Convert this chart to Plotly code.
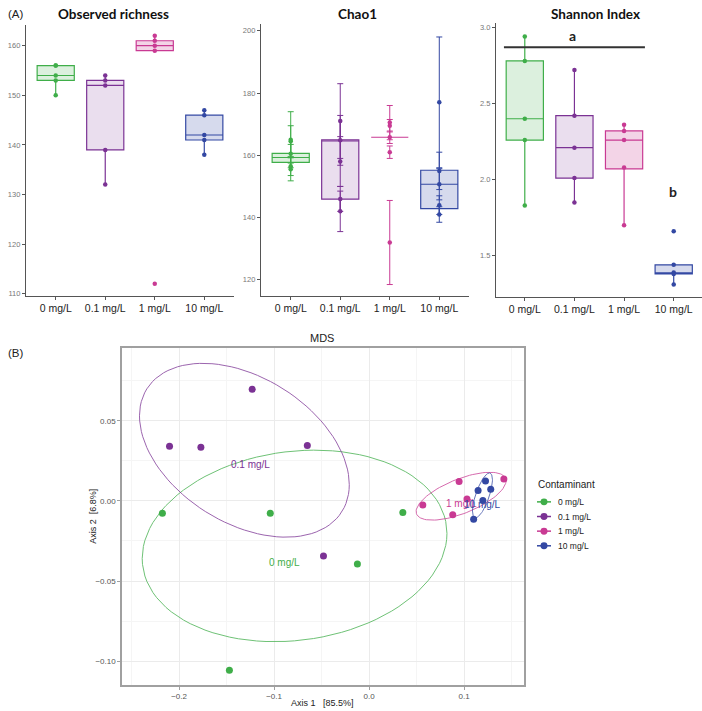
import numpy as np
import plotly.graph_objects as go

W, H = 702, 711

# ---------------- data ----------------
groups = ["0 mg/L", "0.1 mg/L", "1 mg/L", "10 mg/L"]
legend_labels = ["0 mg/L", "0.1 mg/L", "1 mg/L", "10 mg/L"]
colors = ["#3fae49", "#7b3294", "#c93a93", "#3348a3"]
fills = ["rgba(63,174,73,0.18)", "rgba(123,50,148,0.16)", "rgba(201,58,147,0.22)", "rgba(51,72,163,0.2)"]

# Observed richness
obs_points = [[156, 156, 154, 153, 150], [154, 153, 152, 139, 132],
              [162, 161, 160, 159, 112], [147, 146, 142, 141, 138]]
obs_q1 = [153, 139, 159, 141]
obs_med = [154, 152, 160, 142]
obs_q3 = [156, 153, 161, 146]
obs_lo = [150, 132, 159, 138]
obs_hi = [156, 154, 162, 147]

# Chao1
chao_points = [[165, 164.5, 160.5, 156.5, 155.5], [171, 164.8, 158, 146, 142],
               [170.5, 169.5, 165.8, 161, 132], [177, 155, 150.7, 144, 141]]
chao_se = [[9, 5, 3, 3, 3.7], [12, 8, 8, 4, 6.5],
           [5.5, 2, 2, 2, 13.5], [21, 6, 5, 3, 2.5]]
chao_q1 = [157.7, 145.9, 165.8, 142.9]
chao_med = [159.3, 164.6, 165.8, 150.7]
chao_q3 = [160.6, 165.0, 165.8, 155.2]
chao_lo = [155.5, 142, 165.8, 141]
chao_hi = [165, 171, 165.8, 155]

# Shannon
sha_points = [[2.94, 2.78, 2.40, 2.26, 1.83], [2.72, 2.42, 2.21, 2.01, 1.85],
              [2.36, 2.32, 2.26, 2.08, 1.70], [1.66, 1.44, 1.39, 1.38, 1.31]]
sha_q1 = [2.26, 2.01, 2.07, 1.38]
sha_med = [2.40, 2.21, 2.26, 1.385]
sha_q3 = [2.78, 2.42, 2.32, 1.44]
sha_lo = [1.83, 1.85, 1.70, 1.31]
sha_hi = [2.94, 2.72, 2.36, 1.44]
sig_letters = ["a", "b"]
sig_letter_x = [1.97, 3.98]
sig_letter_y = [2.945, 1.92]
sig_bar_x = [0.58, 3.42]
sig_bar_y = 2.87

# MDS coordinates
mds_x = [[-0.2175, -0.104, -0.0123, -0.147, 0.0355],
         [-0.123, -0.210, -0.177, -0.065, -0.048],
         [0.0565, 0.0947, 0.103, 0.088, 0.1418],
         [0.1225, 0.1147, 0.128, 0.1197, 0.110]]
mds_y = [[-0.0077, -0.0077, -0.0394, -0.1057, -0.0072],
         [0.0697, 0.0342, 0.0336, 0.0346, -0.0344],
         [-0.0025, 0.0121, 0.0012, -0.0087, 0.0137],
         [0.0124, 0.0065, 0.0073, 0.0002, -0.0114]]
ELLIPSE_LEVEL = 0.70


def dxp(px):
    return px / W


def dyp(py):
    return 1 - py / H


fig = go.Figure()

panels = [
    ("x", "y", obs_points, None, obs_q1, obs_med, obs_q3, obs_lo, obs_hi),
    ("x2", "y2", chao_points, chao_se, chao_q1, chao_med, chao_q3, chao_lo, chao_hi),
    ("x3", "y3", sha_points, None, sha_q1, sha_med, sha_q3, sha_lo, sha_hi),
]
for xa, ya, pts, se, q1, med, q3, lo, hi in panels:
    for i in range(4):
        fig.add_trace(go.Box(
            x=[i + 1], q1=[q1[i]], median=[med[i]], q3=[q3[i]],
            lowerfence=[lo[i]], upperfence=[hi[i]], width=0.75,
            line=dict(color=colors[i], width=1.2), fillcolor=fills[i],
            whiskerwidth=0, boxpoints=False, showlegend=False,
            xaxis=xa, yaxis=ya))
        sc = dict(x=[i + 1] * len(pts[i]), y=pts[i], mode="markers",
                  marker=dict(color=colors[i], size=4.5), showlegend=False,
                  xaxis=xa, yaxis=ya)
        if se is not None:
            sc["error_y"] = dict(type="data", array=se[i], visible=True,
                                 color=colors[i], thickness=1, width=3)
        fig.add_trace(go.Scatter(**sc))


# ---------- MDS ellipses (stat_ellipse type "t") ----------
def cov_trob(X, nu=5, maxit=25, tol=0.01):
    n, p = X.shape
    wt = np.ones(n)
    loc = X.mean(axis=0)
    w = np.sqrt(wt)
    Xc = X - loc
    for _ in range(maxit):
        w0 = w
        Xc = X - loc
        A = np.sqrt(w / w.sum())[:, None] * Xc
        _, d, Vt = np.linalg.svd(A, full_matrices=False)
        wX = Xc @ Vt.T @ np.diag(1 / d)
        Q = (wX ** 2).sum(axis=1)
        w = wt * (nu + p) / (nu + Q)
        loc = (w[:, None] * X).sum(axis=0) / w.sum()
        if np.all(np.abs(w - w0) < tol):
            break
    S = np.sqrt(w)[:, None] * Xc
    return loc, S.T @ S / wt.sum()


for i in range(4):
    X = np.column_stack([mds_x[i], mds_y[i]])
    center, shape = cov_trob(X)
    dfd = len(X) - 1
    f = (dfd / 2) * ((1 - ELLIPSE_LEVEL) ** (-2 / dfd) - 1)
    radius = np.sqrt(2 * f)
    L = np.linalg.cholesky(shape)
    ang = np.linspace(0, 2 * np.pi, 101)
    circ = np.column_stack([np.cos(ang), np.sin(ang)])
    ell = center + radius * (circ @ L.T)
    fig.add_trace(go.Scatter(x=ell[:, 0], y=ell[:, 1], mode="lines",
                             line=dict(color=colors[i], width=1), opacity=0.75,
                             showlegend=False, xaxis="x4", yaxis="y4"))

for i in range(4):
    fig.add_trace(go.Scatter(x=mds_x[i], y=mds_y[i], mode="markers",
                             marker=dict(color=colors[i], size=7),
                             showlegend=False, xaxis="x4", yaxis="y4"))
    fig.add_annotation(x=float(np.mean(mds_x[i])), y=float(np.mean(mds_y[i])),
                       xref="x4", yref="y4", text=groups[i], showarrow=False,
                       xanchor="center", yanchor="middle",
                       yshift=-8, font=dict(size=10, color=colors[i],
                                            family="Liberation Sans"))

# ---------- layout ----------
tickfont_y = dict(size=7.5, color="#777", family="Liberation Sans")
tickfont_x = dict(size=10.5, color="#222", family="Liberation Sans")
axA = dict(showline=True, linecolor="#555", linewidth=1.3, ticks="outside",
           ticklen=3, tickcolor="#555", showgrid=False, zeroline=False)

layout = dict(
    width=W, height=H, margin=dict(l=0, r=0, t=0, b=0),
    paper_bgcolor="white", plot_bgcolor="white", showlegend=False,
    xaxis=dict(domain=[dxp(26), dxp(234)], range=[0.4, 4.6], tickvals=[1, 2, 3, 4],
               ticktext=groups, tickfont=tickfont_x, anchor="y", **axA),
    yaxis=dict(domain=[dyp(297), dyp(25)], range=[109.6, 164.2],
               tickvals=[110, 120, 130, 140, 150, 160], tickfont=tickfont_y, anchor="x", **axA),
    xaxis2=dict(domain=[dxp(261), dxp(469)], range=[0.4, 4.6], tickvals=[1, 2, 3, 4],
                ticktext=groups, tickfont=tickfont_x, anchor="y2", **axA),
    yaxis2=dict(domain=[dyp(297), dyp(24)], range=[114.9, 202.2],
                tickvals=[120, 140, 160, 180, 200], tickfont=tickfont_y, anchor="x2", **axA),
    xaxis3=dict(domain=[dxp(496), 1.0], range=[0.42, 4.57], tickvals=[1, 2, 3, 4],
                ticktext=groups, tickfont=tickfont_x, anchor="y3", **axA),
    yaxis3=dict(domain=[dyp(298), dyp(23)], range=[1.23, 3.03],
                tickvals=[1.5, 2.0, 2.5, 3.0], tickformat=".1f", tickfont=tickfont_y,
                anchor="x3", **axA),
    xaxis4=dict(domain=[dxp(122), dxp(524)], range=[-0.26, 0.163], anchor="y4",
                tickvals=[-0.2, -0.1, 0.0, 0.1], tickformat=".1f",
                showline=True, mirror=True, linecolor="#a0a0a0", linewidth=1.5,
                ticks="outside", ticklen=3, tickcolor="#a0a0a0",
                showgrid=True, gridcolor="#ebebeb", gridwidth=1, zeroline=False,
                minor=dict(tick0=-0.25, dtick=0.1, showgrid=True, gridcolor="#f5f5f5"),
                tickfont=dict(size=8, color="#555", family="Liberation Sans")),
    yaxis4=dict(domain=[dyp(688), dyp(349)], range=[-0.115, 0.0958], anchor="x4",
                tickvals=[-0.10, -0.05, 0.0, 0.05], tickformat=".2f",
                showline=True, mirror=True, linecolor="#a0a0a0", linewidth=1.5,
                ticks="outside", ticklen=3, tickcolor="#a0a0a0",
                showgrid=True, gridcolor="#ebebeb", gridwidth=1, zeroline=False,
                minor=dict(tick0=-0.125, dtick=0.05, showgrid=True, gridcolor="#f5f5f5"),
                tickfont=dict(size=8, color="#555", family="Liberation Sans")),
)
fig.update_layout(**layout)

# significance bar and letters
fig.add_shape(type="line", xref="x3", yref="y3", x0=sig_bar_x[0], x1=sig_bar_x[1],
              y0=sig_bar_y, y1=sig_bar_y, line=dict(color="#333", width=2))
for t, lx, ly in zip(sig_letters, sig_letter_x, sig_letter_y):
    fig.add_annotation(x=lx, y=ly, xref="x3", yref="y3", text="<b>%s</b>" % t,
                       showarrow=False, xanchor="center", yanchor="middle",
                       font=dict(size=14, color="#222", family="Lato"))


def label(text, px, py, size, family="Liberation Sans", angle=0, color="#222",
          xanchor="center"):
    fig.add_annotation(x=dxp(px), y=dyp(py), xref="paper", yref="paper", text=text,
                       showarrow=False, xanchor=xanchor, yanchor="middle",
                       textangle=angle, font=dict(size=size, color=color, family=family))


# titles and panel labels
label("<b>Observed richness</b>", 113, 14, 13.5, "Lato", color="#111")
label("<b>Chao1</b>", 357, 14, 13.5, "Lato", color="#111")
label("<b>Shannon Index</b>", 595, 14, 13.5, "Lato", color="#111")
label("(A)", 16, 14, 11.5)
label("(B)", 16, 354, 11.5)
label("MDS", 322, 339, 11)
label("Axis 2  [6.8%]", 93, 519, 9, angle=-90)
label("Axis 1   [85.5%]", 322, 706, 9)

# manual legend (compact, like ggplot's)
label("Contaminant", 536, 487, 10, xanchor="left")
for i, name in enumerate(legend_labels):
    ly = 504 + i * 14.7
    fig.add_shape(type="line", xref="paper", yref="paper",
                  x0=dxp(537), x1=dxp(551), y0=dyp(ly), y1=dyp(ly),
                  line=dict(color=colors[i], width=1.5))
    fig.add_shape(type="circle", xref="paper", yref="paper",
                  x0=dxp(544 - 3.5), x1=dxp(544 + 3.5), y0=dyp(ly + 3.5), y1=dyp(ly - 3.5),
                  fillcolor=colors[i], line=dict(color=colors[i], width=0))
    label(name, 556, ly, 8.5, xanchor="left")

fig.write_html("out.html")
